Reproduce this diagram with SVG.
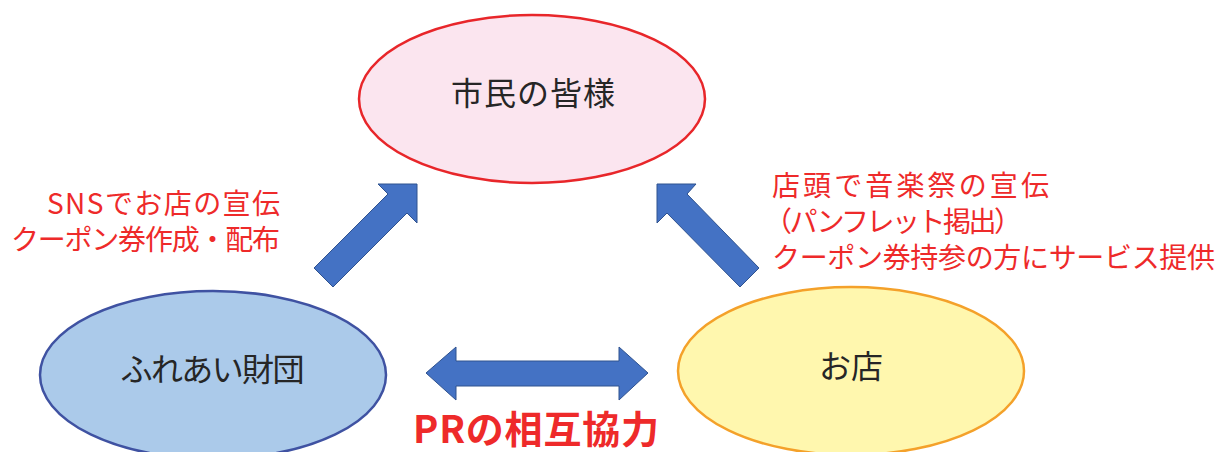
<svg xmlns="http://www.w3.org/2000/svg" width="1216" height="452" viewBox="0 0 1216 452">
<style>
.lbl{font-family:"Noto Sans CJK JP","Liberation Sans",sans-serif;fill:#262626;font-size:32px;text-anchor:middle}
.red{font-family:"Noto Sans CJK JP","Liberation Sans",sans-serif;fill:#EE2A2A;font-size:28px}
.arr{fill:#4472C4;stroke:#2F528F;stroke-width:1}
</style>
<rect width="1216" height="452" fill="#FFFFFF"/>
<g id="connectors">
<polygon class="arr" points="314,268 388,194 378,184 417,184 417,223 407,213 333,287"/>
<polygon class="arr" points="657,184 696,184 687,194 759,268 740,287 667,213 657,223"/>
<polygon class="arr" points="426,373 456,347 456,361 619,361 619,347 648,373 619,400 619,386 456,386 456,400"/>
</g>
<g id="node-citizens">
<ellipse cx="532" cy="99" rx="173" ry="84" fill="#FBE5EF" stroke="#E8262A" stroke-width="2.5"/>
<text class="lbl" x="533" y="105" textLength="164">市民の皆様</text>
</g>
<g id="node-foundation">
<ellipse cx="213" cy="375" rx="173" ry="84" fill="#ABCAEA" stroke="#3F52A2" stroke-width="2.5"/>
<text class="lbl" x="212.5" y="381" textLength="184">ふれあい財団</text>
</g>
<g id="node-shop">
<ellipse cx="851" cy="371" rx="173" ry="84" fill="#FFF7AE" stroke="#F4A12A" stroke-width="2.5"/>
<text class="lbl" x="851" y="378">お店</text>
</g>
<g id="labels">
<text class="red" x="47" y="214" textLength="233">SNSでお店の宣伝</text>
<text class="red" x="11" y="250" textLength="269">クーポン券作成・配布</text>
<text class="red" x="772" y="196" textLength="277">店頭で音楽祭の宣伝</text>
<text class="red" x="764" y="232" textLength="258">（パンフレット掲出）</text>
<text class="red" x="772" y="268" textLength="443">クーポン券持参の方にサービス提供</text>
<text x="536" y="443" font-family="Noto Sans CJK JP, Liberation Sans, sans-serif" font-size="38" font-weight="bold" fill="#EE2A2A" text-anchor="middle" textLength="246">PRの相互協力</text>
</g>
</svg>
